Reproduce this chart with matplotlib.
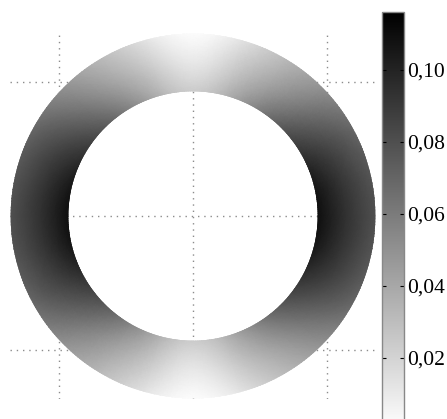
import numpy as np
import matplotlib
matplotlib.use('Agg')
import matplotlib.pyplot as plt
import matplotlib.tri as mtri
from matplotlib.path import Path
from matplotlib.patches import PathPatch
from matplotlib.ticker import FuncFormatter

# Annulus geometry
r_inner = 0.93
r_outer = 1.36

# Field values in one quadrant (angle from +x axis)
angles_deg = [0, 15, 30, 45, 60, 75, 90]
val_inner = [0.110, 0.106, 0.093, 0.077, 0.057, 0.036, 0.025]
val_mid = [0.093, 0.090, 0.080, 0.061, 0.041, 0.023, 0.011]
val_outer = [0.078, 0.075, 0.066, 0.048, 0.030, 0.011, 0.001]

cbar_ticks = [0.02, 0.04, 0.06, 0.08, 0.10]
vmin, vmax = 0.0, 0.116

# mirror the quadrant to the full circle (field symmetric about both axes)
q = np.array(angles_deg, dtype=float)
full_ang = np.concatenate([q, 180 - q[::-1][1:], 180 + q[1:], 360 - q[::-1][1:-1]])
def mirror(v):
    v = np.array(v)
    return np.concatenate([v, v[::-1][1:], v[1:], v[::-1][1:-1]])

rings = [(r_inner * 0.98, mirror(val_inner)),
         ((r_inner + r_outer) / 2, mirror(val_mid)),
         (r_outer * 1.02, mirror(val_outer))]

th = np.deg2rad(full_ang)
n = len(th)
xs, ys, zs = [], [], []
for r, v in rings:
    xs.append(r * np.cos(th))
    ys.append(r * np.sin(th))
    zs.append(v)
x = np.concatenate(xs)
y = np.concatenate(ys)
z = np.concatenate(zs)

tris = []
for k in range(len(rings) - 1):
    for i in range(n):
        a = k * n + i
        b = k * n + (i + 1) % n
        c = (k + 1) * n + i
        d = (k + 1) * n + (i + 1) % n
        tris.append([a, b, d])
        tris.append([a, d, c])
tri = mtri.Triangulation(x, y, np.array(tris))
refiner = mtri.UniformTriRefiner(tri)
tri_f, z_f = refiner.refine_field(z, subdiv=4)

fig = plt.figure(figsize=(4.47, 4.19), dpi=100)
R_ax = 1.365
ax = fig.add_axes([10 / 447, 20 / 419, 366 / 447, 366 / 419])
ax.set_xlim(-R_ax, R_ax)
ax.set_ylim(-R_ax, R_ax)
ax.set_xticks([-1, 0, 1])
ax.set_yticks([-1, 0, 1])
ax.tick_params(length=0, labelbottom=False, labelleft=False)
for s in ax.spines.values():
    s.set_visible(False)
# dotted grid at the tick positions
for g in ax.get_xticks():
    ax.axvline(g, color='#8c8c8c', linestyle=(0, (1, 3.5)), linewidth=1.0, zorder=0.5)
for g in ax.get_yticks():
    ax.axhline(g, color='#8c8c8c', linestyle=(0, (1, 3.5)), linewidth=1.0, zorder=0.5)

tpc = ax.tripcolor(tri_f, z_f, shading='gouraud', cmap='gray_r', vmin=vmin, vmax=vmax,
                   zorder=1)

# clip to the annulus
t = np.linspace(0, 2 * np.pi, 361)
outer = np.column_stack([r_outer * np.cos(t), r_outer * np.sin(t)])
inner = np.column_stack([r_inner * np.cos(t[::-1]), r_inner * np.sin(t[::-1])])
verts = np.vstack([outer, inner])
codes = np.full(len(verts), Path.LINETO)
codes[0] = Path.MOVETO
codes[len(outer)] = Path.MOVETO
ring = PathPatch(Path(verts, codes), facecolor='none', edgecolor='none')
ax.add_patch(ring)
tpc.set_clip_path(ring)

cax = fig.add_axes([382 / 447, -11 / 419, 22 / 447, 418 / 419])
cb = fig.colorbar(tpc, cax=cax, ticks=cbar_ticks)
cb.outline.set_edgecolor('#888888')
cb.outline.set_linewidth(1.0)
cax.tick_params(which='both', direction='in', length=3, width=0.8, left=True, right=True,
                labelsize=15.5, pad=2)
cax.yaxis.set_major_formatter(FuncFormatter(lambda v, p: f'{v:.2f}'.replace('.', ',')))
for lbl in cax.get_yticklabels():
    lbl.set_family('Liberation Serif')

fig.savefig('out.png', dpi=100)
